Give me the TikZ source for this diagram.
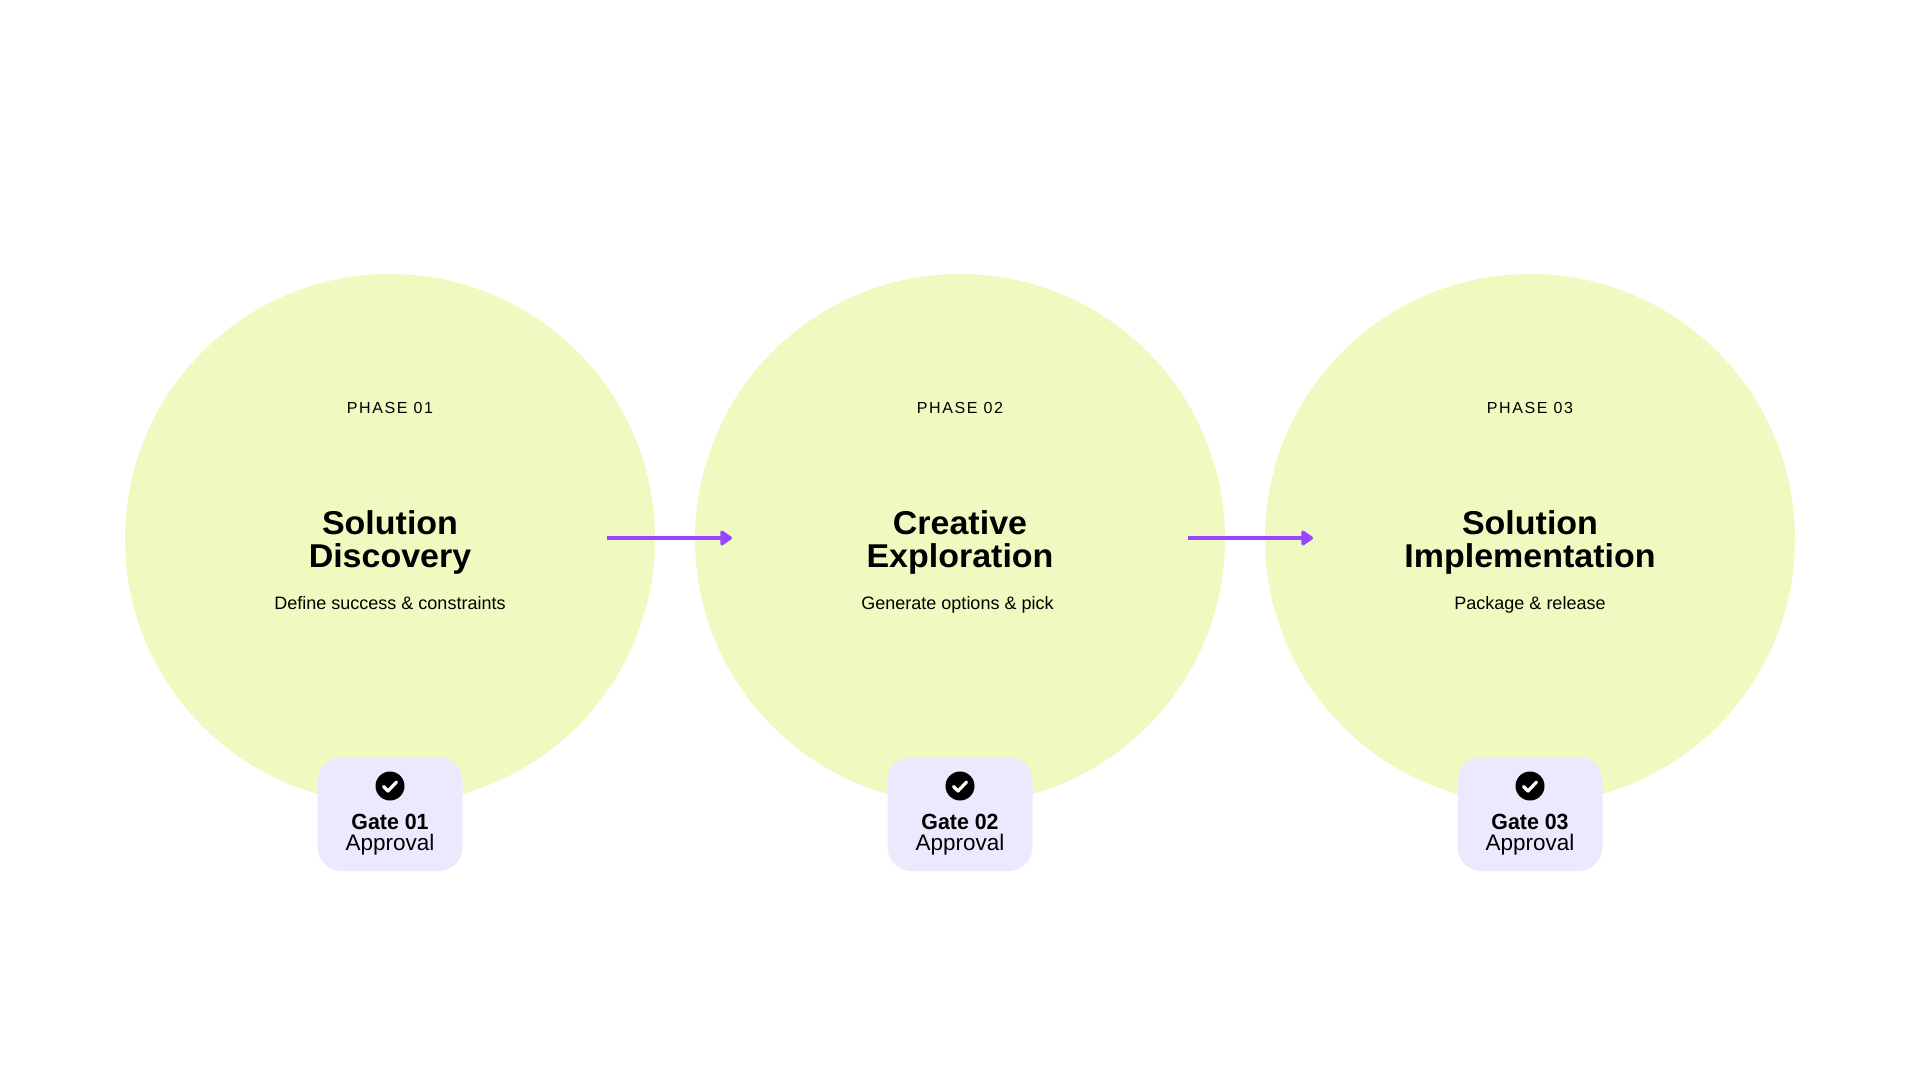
\documentclass[tikz,border=0pt]{standalone}
\usepackage{fontspec}
\setmainfont{Liberation Sans}
\newfontfamily\labelfont[LetterSpace=10]{Liberation Sans}
\newfontfamily\titlefont[FakeStretch=1.03,BoldFont={Liberation Sans Bold}]{Liberation Sans Bold}
\newfontfamily\gatefont[FakeStretch=0.97]{Liberation Sans Bold}
\usetikzlibrary{arrows.meta}
\definecolor{lime}{HTML}{F0F9C0}
\definecolor{lav}{HTML}{EDE8FD}
\definecolor{purp}{HTML}{9747FF}
\tikzset{
  x=1pt,y=-1pt,
  phasecircle/.style={circle,fill=lime,minimum size=530pt,inner sep=0pt},
  gatebox/.style={rounded corners=24pt,fill=lav,minimum width=145pt,minimum height=114pt,inner sep=0pt},
  checkdot/.style={circle,fill=black,minimum size=29pt,inner sep=0pt},
  phaselabel/.style={anchor=base,font=\labelfont\fontsize{16}{16}\selectfont,text=black},
  titletext/.style={anchor=base,align=center,font=\titlefont\fontsize{33}{33}\selectfont,text=black},
  subtext/.style={anchor=base,font=\fontsize{18}{18}\selectfont,text=black},
  gatetext/.style={anchor=base,font=\gatefont\fontsize{22}{22}\selectfont,text=black},
  approvaltext/.style={anchor=base,font=\fontsize{22.5}{22.5}\selectfont,text=black},
  flow/.style={draw=purp,line width=4pt,-{Triangle[length=13pt,width=17pt,round]}},
  tick/.style={draw=white,line width=3.2pt,line cap=round,line join=round}
}
\begin{document}
\begin{tikzpicture}
\useasboundingbox (0,0) rectangle (1920,1080);
\fill[white] (0,0) rectangle (1920,1080);
\foreach \n/\cx/\tone/\ttwo/\sub/\sx in {1/390/Solution/Discovery/{Define success \& constraints}/390,
  2/960/Creative/Exploration/{Generate options \& pick}/957.5,
  3/1530/Solution/Implementation/{Package \& release}/1530}{
  \node[phasecircle] (c\n) at (\cx,539) {};
  \node[gatebox] (g\n) at (\cx,814) {};
  \node[checkdot] (k\n) at (\cx,786) {};
  \draw[tick] (\cx-6.5,786.5) -- (\cx-2,791) -- (\cx+6.5,782);
  \node[phaselabel] (p\n) at (\cx,413) {PHASE 0\n};
  \node[titletext] (ta\n) at (\cx,534) {\tone};
  \node[titletext] (tb\n) at (\cx,567) {\ttwo};
  \node[subtext] (s\n) at (\sx,609) {\sub};
  \node[gatetext] (ga\n) at (\cx,829) {Gate 0\n};
  \node[approvaltext] (gb\n) at (\cx,850) {Approval};
}
\coordinate (a1s) at (607,538); \coordinate (a1e) at (732,538);
\coordinate (a2s) at (1187.5,538); \coordinate (a2e) at (1313,538);
\draw[flow] (a1s) -- (a1e);
\draw[flow] (a2s) -- (a2e);
\end{tikzpicture}
\end{document}
